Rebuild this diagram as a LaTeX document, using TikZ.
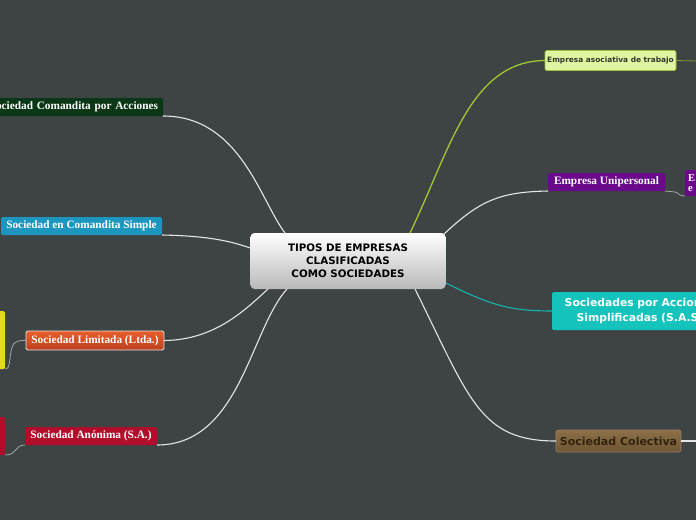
\documentclass[tikz,border=0pt]{standalone}
\usepackage{fontspec}
\setmainfont{Liberation Serif}
\newfontfamily\dv{DejaVu Sans}
\begin{document}
\begin{tikzpicture}[x=1pt,y=-1pt,
  box/.style={inner sep=0pt,outer sep=0pt,rounded corners=1.5pt,text=white,font=\bfseries\fontsize{11.3}{12}\selectfont},
  conn/.style={draw=white!90!black,line width=1.1pt},
  thin/.style={draw=gray!70,line width=0.8pt}]
\fill[fill={rgb,255:red,62;green,67;blue,68}] (0,0) rectangle (696,520);
\useasboundingbox (0,0) rectangle (696,520);
\begin{scope}
\clip (0,0) rectangle (696,520);
% central
\node[box,text=black,top color=white,bottom color=gray!55,minimum width=195pt,minimum height=56pt,rounded corners=4pt,align=center,font=\dv\bfseries\fontsize{10.3}{13}\selectfont] (c) at (348,261) {TIPOS DE EMPRESAS\\CLASIFICADAS\\COMO SOCIEDADES};
% left
\node[box,fill={rgb,255:red,10;green,56;blue,22},minimum height=18pt,anchor=east,text width=220pt,align=right,inner xsep=5pt] (a) at (163,107) {Sociedad Comandita por Acciones};
\node[box,fill={rgb,255:red,27;green,150;blue,190},minimum height=18pt,minimum width=161pt] (b) at (81.5,226) {Sociedad en Comandita Simple};
\node[box,top color={rgb,255:red,232;green,94;blue,44},bottom color={rgb,255:red,186;green,64;blue,30},draw=white!80!gray,line width=0.8pt,minimum height=19pt,minimum width=138pt] (l) at (95,340.5) {Sociedad Limitada (Ltda.)};
\node[box,fill={rgb,255:red,176;green,14;blue,42},minimum height=18pt,minimum width=132pt] (s) at (91,436) {Sociedad Anónima (S.A.)};
\node[box,fill={rgb,255:red,226;green,218;blue,26},minimum width=20pt,minimum height=58pt,anchor=east] (y) at (5,340) {};
\node[box,fill={rgb,255:red,176;green,14;blue,42},minimum width=20pt,minimum height=38pt,anchor=east] (r) at (5,436) {};
% right
\node[box,fill={rgb,255:red,223;green,245;blue,162},draw={rgb,255:red,155;green,194;blue,58},line width=0.8pt,text={rgb,255:red,50;green,55;blue,40},font=\dv\bfseries\fontsize{7.4}{8}\selectfont,minimum height=20pt,minimum width=131pt] (ea) at (610.5,60.5) {Empresa asociativa de trabajo};
\node[box,fill={rgb,255:red,106;green,10;blue,138},minimum height=18pt,minimum width=117pt] (eu) at (606.5,182) {Empresa Unipersonal};
\node[box,fill={rgb,255:red,106;green,10;blue,138},minimum height=26pt,text width=30pt,inner xsep=3pt,anchor=west,align=left,font=\bfseries\fontsize{10.5}{9.5}\selectfont] (ee) at (685,183) {E\\e};
\node[box,fill={rgb,255:red,20;green,196;blue,188},minimum height=38pt,text width=176pt,anchor=west,align=center,font=\dv\bfseries\fontsize{10.8}{14.5}\selectfont] (sas) at (552,311) {Sociedades por Acciones\\Simplificadas (S.A.S)};
\node[box,top color={rgb,255:red,140;green,112;blue,72},bottom color={rgb,255:red,110;green,86;blue,52},draw=gray!60!brown,line width=0.6pt,text={rgb,255:red,50;green,35;blue,15},font=\dv\bfseries\fontsize{11}{12}\selectfont,minimum height=22pt,minimum width=125pt] (sc) at (618.5,441) {Sociedad Colectiva};
\end{scope}
\coordinate (ea2) at (696,61);
\coordinate (sc2) at (696,441);
% connectors
\draw[conn] (a.south east) .. controls (240,116) and (260,200) .. (c.north west -| 285,0);
\draw[conn] (b.south east) .. controls (215,236) and (235,243) .. (c.west |- 0,248);
\draw[conn] (l.east) .. controls (215,340) and (245,310) .. (268,289);
\draw[conn] (s.south east) .. controls (240,445) and (250,330) .. (287,289);
\draw[thin] (l.west) .. controls (12,340) and (12,345) .. (10,358) .. controls (9,368) and (8,369) .. (y.south east);
\draw[thin] (s.south west) .. controls (14,445) and (18,455) .. (r.south east);
\draw[draw={rgb,255:red,160;green,200;blue,50},line width=1.3pt] (410,233) .. controls (450,150) and (470,61) .. (ea.west);
\draw[draw={rgb,255:red,130;green,160;blue,50},line width=0.8pt] (ea.east) -- (ea2);
\draw[conn] (443,235) .. controls (480,200) and (500,192) .. (eu.south west);
\draw[thin] (eu.south east) -- (675,192) .. controls (678,192) and (678,196) .. (ee.south west);
\draw[draw={rgb,255:red,20;green,180;blue,175},line width=1.1pt] (446,283) .. controls (490,305) and (510,311) .. (sas.west);
\draw[conn] (415,289) .. controls (470,400) and (480,441) .. (sc.west);
\draw[conn] (sc.east) -- (sc2);
\end{tikzpicture}
\end{document}
